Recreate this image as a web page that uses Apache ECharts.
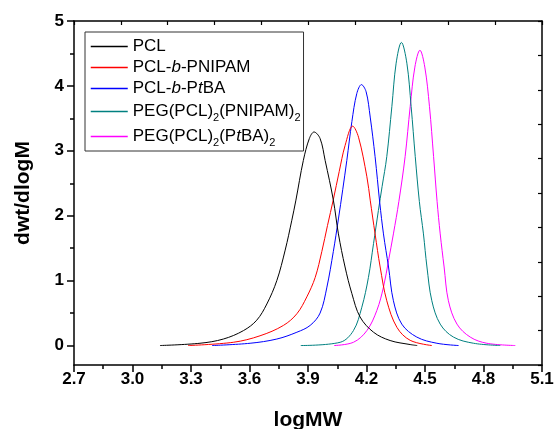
<!DOCTYPE html>
<html>
<head>
<meta charset="utf-8">
<script src="https://cdn.jsdelivr.net/npm/echarts@6/dist/echarts.min.js"></script>
<style>
  html, body { margin: 0; padding: 0; background: #fff; }
  #chart { width: 556px; height: 429px; }
</style>
</head>
<body>
<div id="chart"></div>
<script>
// GPC molecular weight distributions (logMW vs dwt/dlogM)
const pclX = [3.141, 3.346, 3.466, 3.569, 3.637, 3.689, 3.740, 3.783, 3.817, 3.838, 3.876, 3.907, 3.931, 3.962, 3.988, 4.030, 4.056, 4.090, 4.125, 4.167, 4.236, 4.321, 4.424, 4.460];
const pclY = [0, 0.035, 0.10, 0.23, 0.39, 0.64, 1.00, 1.47, 1.93, 2.24, 2.85, 3.19, 3.29, 3.19, 2.85, 2.24, 1.72, 1.21, 0.80, 0.44, 0.205, 0.077, 0.015, 0];

const pnipamX = [3.285, 3.517, 3.654, 3.774, 3.843, 3.894, 3.937, 3.971, 4.000, 4.030, 4.060, 4.090, 4.129, 4.159, 4.202, 4.219, 4.244, 4.270, 4.304, 4.356, 4.424, 4.535];
const pnipamY = [0, 0.05, 0.15, 0.31, 0.49, 0.75, 1.05, 1.45, 1.85, 2.25, 2.68, 3.08, 3.38, 3.21, 2.60, 2.24, 1.72, 1.21, 0.69, 0.28, 0.08, 0];

const ptbaX = [3.408, 3.603, 3.740, 3.843, 3.911, 3.962, 3.997, 4.030, 4.056, 4.078, 4.099, 4.125, 4.150, 4.174, 4.198, 4.219, 4.244, 4.268, 4.287, 4.313, 4.338, 4.381, 4.458, 4.561, 4.672];
const ptbaY = [0, 0.035, 0.10, 0.205, 0.31, 0.50, 0.90, 1.45, 1.95, 2.40, 2.85, 3.45, 3.88, 4.02, 3.91, 3.52, 2.91, 2.20, 1.72, 1.21, 0.69, 0.33, 0.13, 0.035, 0];

const starPnipamX = [3.863, 4.065, 4.133, 4.176, 4.210, 4.236, 4.261, 4.280, 4.304, 4.330, 4.352, 4.379, 4.407, 4.429, 4.450, 4.471, 4.492, 4.510, 4.535, 4.578, 4.646, 4.749, 4.886];
const starPnipamY = [0, 0.05, 0.23, 0.59, 1.05, 1.57, 2.08, 2.45, 2.91, 3.68, 4.35, 4.67, 4.35, 3.68, 2.91, 2.22, 1.72, 1.21, 0.69, 0.33, 0.13, 0.035, 0];

const starPtbaX = [4.034, 4.133, 4.202, 4.253, 4.287, 4.313, 4.338, 4.366, 4.398, 4.424, 4.448, 4.474, 4.499, 4.523, 4.544, 4.562, 4.578, 4.598, 4.620, 4.664, 4.732, 4.817, 4.963];
const starPtbaY = [0, 0.05, 0.23, 0.54, 0.90, 1.31, 1.72, 2.22, 2.91, 3.68, 4.29, 4.55, 4.29, 3.68, 2.91, 2.22, 1.72, 1.21, 0.69, 0.33, 0.13, 0.035, 0];

const seriesNames = ['PCL', 'PCL-b-PNIPAM', 'PCL-b-PtBA', 'PEG(PCL)2(PNIPAM)2', 'PEG(PCL)2(PtBA)2'];
const seriesColors = ['#000000', '#ff0000', '#0000ff', '#008080', '#ff00ff'];

const xTicks = [2.7, 3.0, 3.3, 3.6, 3.9, 4.2, 4.5, 4.8, 5.1];
const xMinorTicks = [2.85, 3.15, 3.45, 3.75, 4.05, 4.35, 4.65, 4.95];
const yTicks = [0, 1, 2, 3, 4, 5];
const yMinorTicks = [0.5, 1.5, 2.5, 3.5, 4.5];

// legend labels with italic letters and subscripts
const legendRich = {
  'PCL': 'PCL',
  'PCL-b-PNIPAM': 'PCL-{i|b}-PNIPAM',
  'PCL-b-PtBA': 'PCL-{i|b}-P{i|t}BA',
  'PEG(PCL)2(PNIPAM)2': 'PEG(PCL){sub|2}(PNIPAM){sub|2}',
  'PEG(PCL)2(PtBA)2': 'PEG(PCL){sub|2}(P{i|t}BA){sub|2}'
};

const FONT = '"Liberation Sans", Arial, Helvetica, sans-serif';
const zip = (xs, ys) => xs.map((x, i) => [x, ys[i]]);
const dataSets = [
  zip(pclX, pclY),
  zip(pnipamX, pnipamY),
  zip(ptbaX, ptbaY),
  zip(starPnipamX, starPnipamY),
  zip(starPtbaX, starPtbaY)
];

const frame = { show: true, onZero: false, lineStyle: { color: '#000', width: 1.5 } };
const noLine = { show: false, onZero: false };

const chart = echarts.init(document.getElementById('chart'), null, { renderer: 'canvas' });
chart.setOption({
  animation: false,
  backgroundColor: '#fff',
  grid: { left: 74, right: 14, top: 21, bottom: 64, containLabel: false, outerBoundsMode: 'none' },
  legend: {
    orient: 'vertical',
    left: 85,
    top: 32,
    padding: [5, 3, 3, 5],
    itemGap: 2,
    itemWidth: 37,
    itemHeight: 14,
    borderColor: '#333',
    borderWidth: 1,
    // plain coloured line samples, no marker in the middle
    data: seriesNames.map((name, k) => ({
      name: name,
      itemStyle: { opacity: 0 },
      lineStyle: { color: seriesColors[k], width: 1.5, opacity: 1 }
    })),
    formatter: name => legendRich[name],
    textStyle: {
      fontFamily: FONT,
      fontSize: 17,
      lineHeight: 19,
      color: '#000',
      rich: {
        i: { fontFamily: FONT, fontSize: 17, lineHeight: 19, fontStyle: 'italic', color: '#000' },
        sub: { fontFamily: FONT, fontSize: 11, color: '#000', verticalAlign: 'bottom', lineHeight: 23 }
      }
    }
  },
  xAxis: [
    {
      type: 'value', min: 2.7, max: 5.1, position: 'bottom',
      axisLine: frame,
      axisTick: { show: true, customValues: xTicks, length: 7, lineStyle: { color: '#000', width: 1.5 } },
      axisLabel: {
        show: true, customValues: xTicks, margin: 6,
        formatter: v => v.toFixed(1),
        fontFamily: FONT, fontSize: 17, fontWeight: 'bold', color: '#000'
      },
      splitLine: { show: false },
      name: 'logMW', nameLocation: 'middle', nameGap: 45,
      nameTextStyle: { fontFamily: FONT, fontSize: 21, fontWeight: 'bold', color: '#000' }
    },
    {
      type: 'value', min: 2.7, max: 5.1, position: 'bottom',
      axisLine: noLine,
      axisTick: { show: true, customValues: xMinorTicks, length: 4, lineStyle: { color: '#000', width: 1.5 } },
      axisLabel: { show: false },
      splitLine: { show: false }
    },
    {
      type: 'value', min: 0, max: 10, interval: 1, position: 'top',
      axisLine: frame,
      axisTick: { show: true, inside: true, length: 4, lineStyle: { color: '#000', width: 1.2 } },
      axisLabel: { show: false },
      splitLine: { show: false }
    }
  ],
  yAxis: [
    {
      type: 'value', min: -0.3, max: 5, position: 'left',
      axisLine: frame,
      axisTick: { show: true, customValues: yTicks, length: 7, lineStyle: { color: '#000', width: 1.5 } },
      axisLabel: {
        show: true, customValues: yTicks, margin: 10,
        fontFamily: FONT, fontSize: 17, fontWeight: 'bold', color: '#000'
      },
      splitLine: { show: false },
      name: 'dwt/dlogM', nameLocation: 'middle', nameGap: 40, nameRotate: 90,
      nameTextStyle: { fontFamily: FONT, fontSize: 21, fontWeight: 'bold', color: '#000' }
    },
    {
      type: 'value', min: -0.3, max: 5, position: 'left',
      axisLine: noLine,
      axisTick: { show: true, customValues: yMinorTicks, length: 4, lineStyle: { color: '#000', width: 1.5 } },
      axisLabel: { show: false },
      splitLine: { show: false }
    },
    {
      type: 'value', min: 0, max: 10, interval: 1, position: 'right',
      axisLine: frame,
      axisTick: { show: true, inside: true, length: 4, lineStyle: { color: '#000', width: 1.2 } },
      axisLabel: { show: false },
      splitLine: { show: false }
    }
  ],
  series: seriesNames.map((name, k) => ({
    name: name,
    type: 'line',
    xAxisIndex: 0,
    yAxisIndex: 0,
    data: dataSets[k],
    smooth: 0.35,
    symbol: 'none',
    color: seriesColors[k],
    itemStyle: { color: seriesColors[k] },
    lineStyle: { color: seriesColors[k], width: 1 },
    z: 5 - k
  }))
});
</script>
</body>
</html>
